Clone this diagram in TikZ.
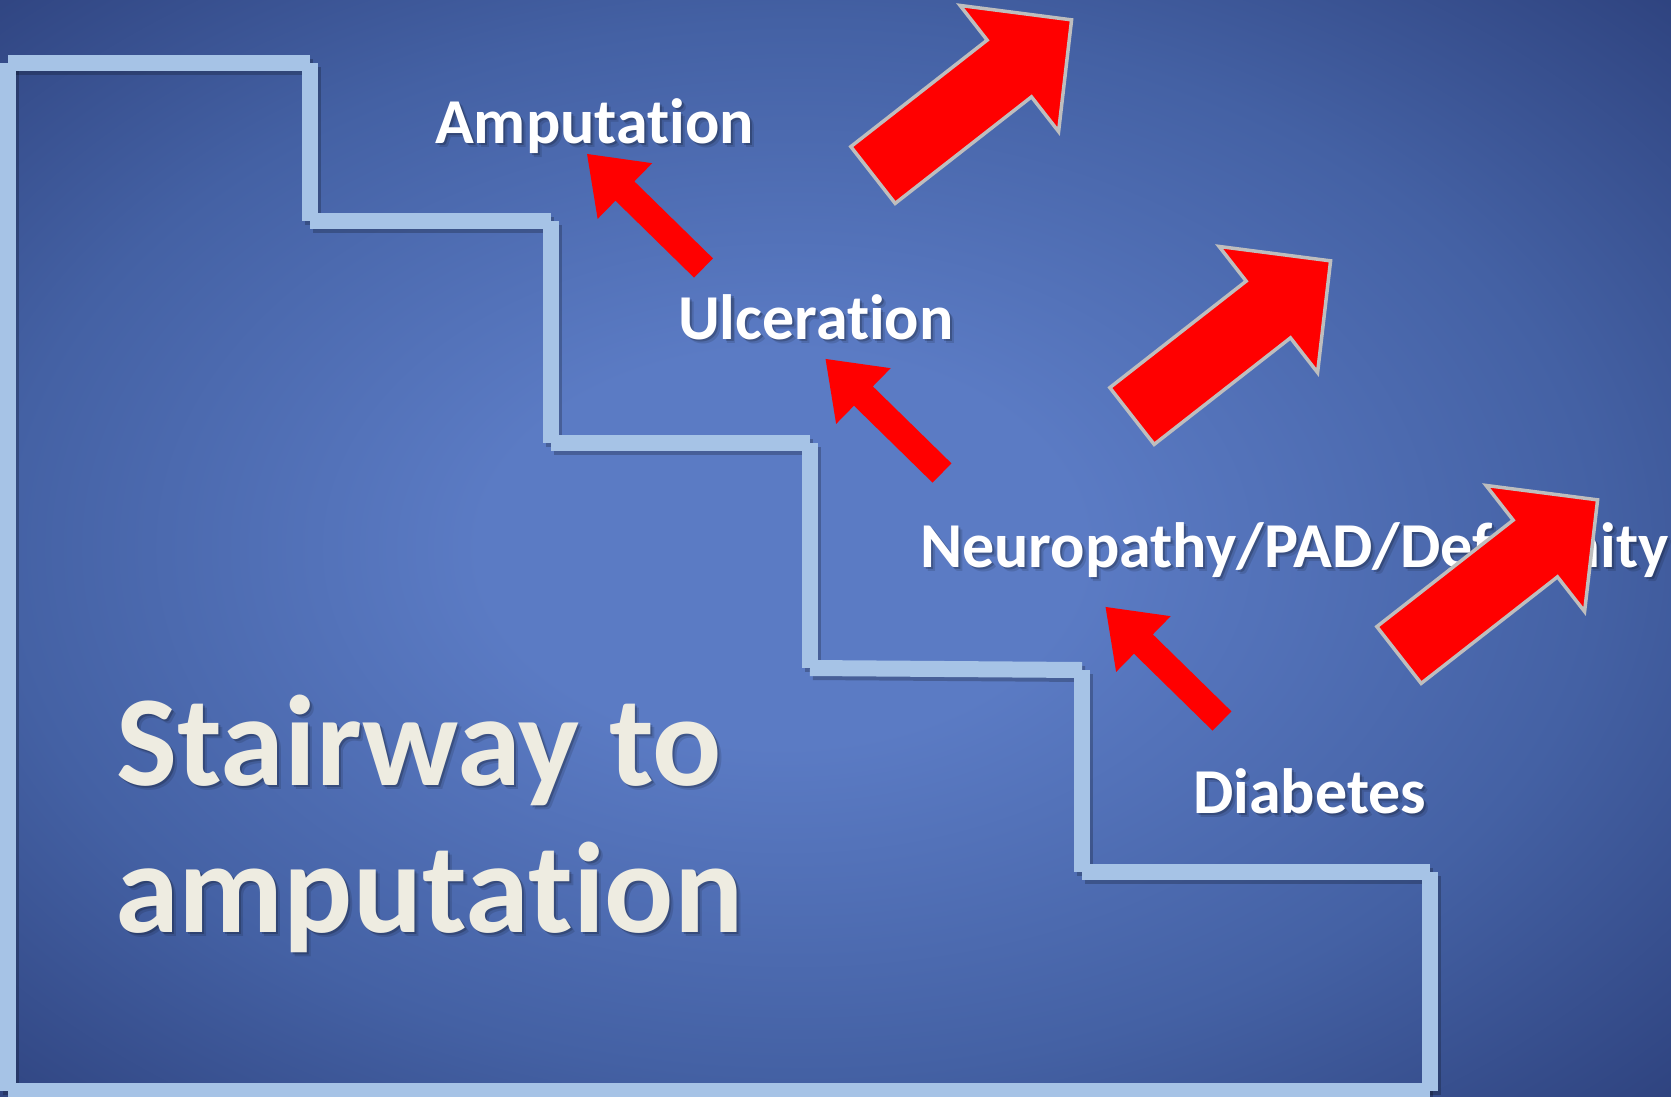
\documentclass[tikz,border=0pt]{standalone}
\usepackage{fontspec}
\setmainfont{Carlito}[Ligatures={NoCommon,NoRequired,NoContextual}]
\usetikzlibrary{arrows}
\definecolor{bgmid}{RGB}{91,123,196}
\definecolor{bgside}{RGB}{68,97,164}
\definecolor{bgedge}{RGB}{43,62,121}
\definecolor{barcol}{RGB}{166,195,230}
\definecolor{rimcol}{RGB}{190,190,190}
\definecolor{ttlcol}{RGB}{238,236,225}
\pgfdeclareradialshading{stairbg}{\pgfpoint{-2bp}{0bp}}{color(0bp)=(bgmid); color(9bp)=(bgmid); color(24bp)=(bgside); color(38bp)=(bgedge); color(50bp)=(bgedge)}
\tikzset{
  lbl/.style={font=\fontsize{64}{77}\selectfont\bfseries,text=white,inner sep=0pt,anchor=base west},
  ttl/.style={font=\fontsize{129}{150}\selectfont\bfseries,text=ttlcol,inner sep=0pt,anchor=base west},
  bar/.style={draw=barcol,line width=16pt},
  barshade/.style={draw=black,line width=16pt,opacity=.22},
  bigarrow/.pic={\filldraw[fill=red,draw=rimcol,line width=3.5pt] (0,36) -- (173,36) -- (173,80) -- (252,0) -- (173,-80) -- (173,-36) -- (0,-36) -- cycle;},
  smallarrow/.pic={\fill[red] (0,13.5) -- (110,13.5) -- (110,39) -- (163,0) -- (110,-39) -- (110,-13.5) -- (0,-13.5) -- cycle;}
}
\newcommand\StairText[4]{\node[#2,text=black,opacity=.12,xshift=4pt,yshift=-4pt] (#1s2) at #3 {#4}; \node[#2,text=black,opacity=.2,xshift=2pt,yshift=-2pt] (#1s1) at #3 {#4}; \node[#2] (#1) at #3 {#4};}

\begin{document}
\begin{tikzpicture}[x=1pt,y=-1pt]
      \useasboundingbox (0,0) rectangle (1671,1096);
      \shade[shading=stairbg] (0,0) rectangle (1671,1096);

      \coordinate (k0) at (8,1091); \coordinate (k1) at (8,63); \coordinate (k2) at (310,63); \coordinate (k3) at (310,221); \coordinate (k4) at (551,221); \coordinate (k5) at (551,443); \coordinate (k6) at (810,443); \coordinate (k7) at (810,668); \coordinate (k8) at (1082,670); \coordinate (k9) at (1082,872); \coordinate (k10) at (1430,872); \coordinate (k11) at (1430,1091);

      \begin{scope}[transform canvas={xshift=3pt,yshift=-4pt}]
      \draw[barshade] (k0) -- (k1); \draw[barshade] (k1) -- (k2); \draw[barshade] (k2) -- (k3); \draw[barshade] (k3) -- (k4); \draw[barshade] (k4) -- (k5); \draw[barshade] (k5) -- (k6); \draw[barshade] (k6) -- (k7); \draw[barshade] (k7) -- (k8); \draw[barshade] (k8) -- (k9); \draw[barshade] (k9) -- (k10); \draw[barshade] (k10) -- (k11); \draw[barshade] (k11) -- (k0);
      \end{scope}
      \draw[bar] (k0) -- (k1); \draw[bar] (k1) -- (k2); \draw[bar] (k2) -- (k3); \draw[bar] (k3) -- (k4); \draw[bar] (k4) -- (k5); \draw[bar] (k5) -- (k6); \draw[bar] (k6) -- (k7); \draw[bar] (k7) -- (k8); \draw[bar] (k8) -- (k9); \draw[bar] (k9) -- (k10); \draw[bar] (k10) -- (k11); \draw[bar] (k11) -- (k0);

      \StairText{title1}{ttl}{(116,785)}{Stairway to} \StairText{title2}{ttl}{(115,932)}{amputation}
      \StairText{amp}{lbl}{(435,143)}{Amputation} \StairText{ulc}{lbl}{(678,339)}{Ulceration} \StairText{neu}{lbl}{(920,567)}{Neuropathy/PAD/Deformity} \StairText{dia}{lbl}{(1193,813)}{Diabetes}

      \pic[rotate=135.6] at (703.5,268) {smallarrow}; \pic[rotate=135.6] at (942,473) {smallarrow}; \pic[rotate=135.6] at (1222,721) {smallarrow};
      \pic[rotate=38] at (873,175) {bigarrow}; \pic[rotate=38] at (1132,416) {bigarrow}; \pic[rotate=38] at (1399,655) {bigarrow};
    \end{tikzpicture}
\end{document}
